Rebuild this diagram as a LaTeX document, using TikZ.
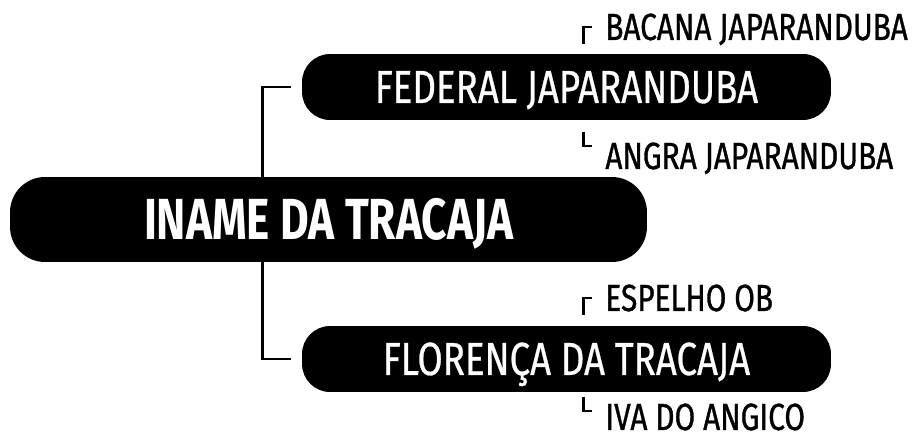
\documentclass[tikz,border=0pt]{standalone}
\usepackage{fontspec}
\setmainfont{Fira Sans}
\newfontfamily\leaffont[FakeStretch=0.79,FakeBold=0.9]{Fira Sans}
\newfontfamily\branchfont[FakeStretch=0.79,FakeBold=0.6]{Fira Sans}
\newfontfamily\rootfont[FakeStretch=0.76]{Fira Sans}
\usetikzlibrary{positioning,calc}
\tikzset{
  root/.style  ={rectangle,rounded corners=0.7cm,fill=black,text=white,inner sep=0pt,minimum width=12.74cm,minimum height=1.7cm,text height=0.8cm,text depth=0pt,font=\rootfont\bfseries\fontsize{33}{36}\selectfont},
  branch/.style={rectangle,rounded corners=0.56cm,fill=black,text=white,inner sep=0pt,minimum width=10.58cm,minimum height=1.32cm,text height=0.64cm,text depth=0pt,font=\branchfont\fontsize{26.4}{30}\selectfont},
  leaf/.style  ={anchor=west,inner sep=0pt,text height=0.52cm,text depth=0pt,font=\leaffont\fontsize{21.5}{24}\selectfont},
  link/.style  ={line width=1.7pt},
  tick/.style  ={line width=1.7pt},
}

\begin{document}
\begin{tikzpicture}[x=0.02cm,y=-0.02cm]
  \useasboundingbox (0,0) rectangle (915,438);

  % ---- branches ----
  \node[branch] (fed) at (566.5,87) {FEDERAL JAPARANDUBA};
  \node[branch] (flo) at (566.5,359) {FLORENÇA DA TRACAJA};
  \draw[link] ([xshift=-0.22cm]fed.west) -| ([xshift=-0.78cm]flo.west) -- ([xshift=-0.22cm]flo.west);

  % ---- root ----
  \node[root] (iname) at (328.5,219.5) {INAME DA TRACAJA};

  % ---- leaves ----
  \node[leaf] (bacana) at (605,27) {BACANA JAPARANDUBA};
  \node[leaf] (angra) at (605,156) {ANGRA JAPARANDUBA};
  \node[leaf] (espelho) at (605,298) {ESPELHO OB};
  \node[leaf] (iva) at (605,417) {IVA DO ANGICO};
  \draw[tick] ($(bacana.west)+(-22,17)$) |- ($(bacana.west)+(-13,0)$);
  \draw[tick] ($(espelho.west)+(-22,17)$) |- ($(espelho.west)+(-13,0)$);
  \draw[tick] ($(angra.west)+(-22,-24)$) |- ($(angra.west)+(-13,-10)$);
  \draw[tick] ($(iva.west)+(-22,-20)$) |- ($(iva.west)+(-13,-6)$);
\end{tikzpicture}
\end{document}
